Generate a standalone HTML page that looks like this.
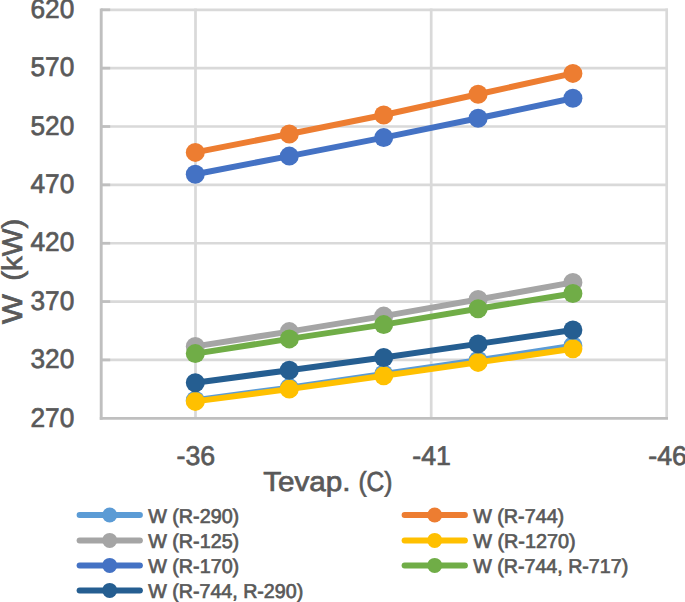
<!DOCTYPE html>
<html><head><meta charset="utf-8"><title>chart</title>
<style>
html,body{margin:0;padding:0;background:#fff;}
body{width:685px;height:602px;overflow:hidden;}
svg{display:block;}
text{font-family:"Liberation Sans",sans-serif;fill:#595959;stroke:#595959;stroke-width:0.7;text-rendering:geometricPrecision;}
</style></head><body>
<svg width="685" height="602" viewBox="0 0 685 602">
<rect width="685" height="602" fill="#fff"/>

<line x1="101" y1="9.80" x2="668" y2="9.80" stroke="#D9D9D9" stroke-width="2.7"/>
<line x1="101" y1="68.16" x2="668" y2="68.16" stroke="#D9D9D9" stroke-width="2.7"/>
<line x1="101" y1="126.51" x2="668" y2="126.51" stroke="#D9D9D9" stroke-width="2.7"/>
<line x1="101" y1="184.87" x2="668" y2="184.87" stroke="#D9D9D9" stroke-width="2.7"/>
<line x1="101" y1="243.23" x2="668" y2="243.23" stroke="#D9D9D9" stroke-width="2.7"/>
<line x1="101" y1="301.59" x2="668" y2="301.59" stroke="#D9D9D9" stroke-width="2.7"/>
<line x1="101" y1="359.94" x2="668" y2="359.94" stroke="#D9D9D9" stroke-width="2.7"/>
<line x1="195.5" y1="8.450000000000001" x2="195.5" y2="418.3" stroke="#D9D9D9" stroke-width="2.7"/>
<line x1="431.2" y1="8.450000000000001" x2="431.2" y2="418.3" stroke="#D9D9D9" stroke-width="2.7"/>
<line x1="666.7" y1="8.450000000000001" x2="666.7" y2="418.3" stroke="#D9D9D9" stroke-width="2.7"/>
<line x1="101" y1="9.80" x2="110.2" y2="9.80" stroke="#BFBFBF" stroke-width="2.7"/>
<line x1="101" y1="68.16" x2="110.2" y2="68.16" stroke="#BFBFBF" stroke-width="2.7"/>
<line x1="101" y1="126.51" x2="110.2" y2="126.51" stroke="#BFBFBF" stroke-width="2.7"/>
<line x1="101" y1="184.87" x2="110.2" y2="184.87" stroke="#BFBFBF" stroke-width="2.7"/>
<line x1="101" y1="243.23" x2="110.2" y2="243.23" stroke="#BFBFBF" stroke-width="2.7"/>
<line x1="101" y1="301.59" x2="110.2" y2="301.59" stroke="#BFBFBF" stroke-width="2.7"/>
<line x1="101" y1="359.94" x2="110.2" y2="359.94" stroke="#BFBFBF" stroke-width="2.7"/>
<line x1="101.2" y1="8.450000000000001" x2="101.2" y2="419.7" stroke="#BFBFBF" stroke-width="2.9"/>
<line x1="99.8" y1="418.3" x2="668" y2="418.3" stroke="#BFBFBF" stroke-width="2.8"/>
<polyline points="195.3,400.2 289.3,387.6 383.7,374.0 478.1,360.3 572.9,345.8" fill="none" stroke="#5B9BD5" stroke-width="6" stroke-linecap="round" stroke-linejoin="round"/>
<circle cx="195.3" cy="400.2" r="9.5" fill="#5B9BD5"/>
<circle cx="289.3" cy="387.6" r="9.5" fill="#5B9BD5"/>
<circle cx="383.7" cy="374.0" r="9.5" fill="#5B9BD5"/>
<circle cx="478.1" cy="360.3" r="9.5" fill="#5B9BD5"/>
<circle cx="572.9" cy="345.8" r="9.5" fill="#5B9BD5"/>
<polyline points="195.3,152.4 289.3,134.0 383.7,115.0 478.1,94.2 572.9,73.4" fill="none" stroke="#ED7D31" stroke-width="6" stroke-linecap="round" stroke-linejoin="round"/>
<circle cx="195.3" cy="152.4" r="9.5" fill="#ED7D31"/>
<circle cx="289.3" cy="134.0" r="9.5" fill="#ED7D31"/>
<circle cx="383.7" cy="115.0" r="9.5" fill="#ED7D31"/>
<circle cx="478.1" cy="94.2" r="9.5" fill="#ED7D31"/>
<circle cx="572.9" cy="73.4" r="9.5" fill="#ED7D31"/>
<polyline points="195.3,346.4 289.3,331.6 383.7,316.1 478.1,299.5 572.9,282.4" fill="none" stroke="#A5A5A5" stroke-width="6" stroke-linecap="round" stroke-linejoin="round"/>
<circle cx="195.3" cy="346.4" r="9.5" fill="#A5A5A5"/>
<circle cx="289.3" cy="331.6" r="9.5" fill="#A5A5A5"/>
<circle cx="383.7" cy="316.1" r="9.5" fill="#A5A5A5"/>
<circle cx="478.1" cy="299.5" r="9.5" fill="#A5A5A5"/>
<circle cx="572.9" cy="282.4" r="9.5" fill="#A5A5A5"/>
<polyline points="195.3,401.4 289.3,389.1 383.7,375.7 478.1,362.4 572.9,348.8" fill="none" stroke="#FFC000" stroke-width="6" stroke-linecap="round" stroke-linejoin="round"/>
<circle cx="195.3" cy="401.4" r="9.5" fill="#FFC000"/>
<circle cx="289.3" cy="389.1" r="9.5" fill="#FFC000"/>
<circle cx="383.7" cy="375.7" r="9.5" fill="#FFC000"/>
<circle cx="478.1" cy="362.4" r="9.5" fill="#FFC000"/>
<circle cx="572.9" cy="348.8" r="9.5" fill="#FFC000"/>
<polyline points="195.3,174.2 289.3,156.1 383.7,137.6 478.1,118.3 572.9,98.3" fill="none" stroke="#4472C4" stroke-width="6" stroke-linecap="round" stroke-linejoin="round"/>
<circle cx="195.3" cy="174.2" r="9.5" fill="#4472C4"/>
<circle cx="289.3" cy="156.1" r="9.5" fill="#4472C4"/>
<circle cx="383.7" cy="137.6" r="9.5" fill="#4472C4"/>
<circle cx="478.1" cy="118.3" r="9.5" fill="#4472C4"/>
<circle cx="572.9" cy="98.3" r="9.5" fill="#4472C4"/>
<polyline points="195.3,353.6 289.3,338.9 383.7,324.6 478.1,308.8 572.9,293.5" fill="none" stroke="#70AD47" stroke-width="6" stroke-linecap="round" stroke-linejoin="round"/>
<circle cx="195.3" cy="353.6" r="9.5" fill="#70AD47"/>
<circle cx="289.3" cy="338.9" r="9.5" fill="#70AD47"/>
<circle cx="383.7" cy="324.6" r="9.5" fill="#70AD47"/>
<circle cx="478.1" cy="308.8" r="9.5" fill="#70AD47"/>
<circle cx="572.9" cy="293.5" r="9.5" fill="#70AD47"/>
<polyline points="195.3,382.7 289.3,370.2 383.7,357.5 478.1,343.9 572.9,330.0" fill="none" stroke="#255E91" stroke-width="6" stroke-linecap="round" stroke-linejoin="round"/>
<circle cx="195.3" cy="382.7" r="9.5" fill="#255E91"/>
<circle cx="289.3" cy="370.2" r="9.5" fill="#255E91"/>
<circle cx="383.7" cy="357.5" r="9.5" fill="#255E91"/>
<circle cx="478.1" cy="343.9" r="9.5" fill="#255E91"/>
<circle cx="572.9" cy="330.0" r="9.5" fill="#255E91"/>
<text x="30.5" y="18.0" font-size="27" textLength="43.8" lengthAdjust="spacingAndGlyphs">620</text>
<text x="30.5" y="76.4" font-size="27" textLength="43.8" lengthAdjust="spacingAndGlyphs">570</text>
<text x="30.5" y="134.7" font-size="27" textLength="43.8" lengthAdjust="spacingAndGlyphs">520</text>
<text x="30.5" y="193.1" font-size="27" textLength="43.8" lengthAdjust="spacingAndGlyphs">470</text>
<text x="30.5" y="251.4" font-size="27" textLength="43.8" lengthAdjust="spacingAndGlyphs">420</text>
<text x="30.5" y="309.8" font-size="27" textLength="43.8" lengthAdjust="spacingAndGlyphs">370</text>
<text x="30.5" y="368.1" font-size="27" textLength="43.8" lengthAdjust="spacingAndGlyphs">320</text>
<text x="30.5" y="426.5" font-size="27" textLength="43.8" lengthAdjust="spacingAndGlyphs">270</text>
<text x="176.5" y="465.0" font-size="27" textLength="38.6" lengthAdjust="spacingAndGlyphs">-36</text>
<text x="412.3" y="465.0" font-size="27" textLength="38.6" lengthAdjust="spacingAndGlyphs">-41</text>
<text x="648.3" y="465.0" font-size="27" textLength="38.6" lengthAdjust="spacingAndGlyphs">-46</text>
<text x="263.2" y="490.6" font-size="27.5" stroke-width="0.5" textLength="87.4" lengthAdjust="spacingAndGlyphs">Tevap.</text>
<text x="358.4" y="490.6" font-size="27.5" stroke-width="0.5" textLength="34" lengthAdjust="spacingAndGlyphs">(C)</text>
<text transform="translate(22.4,323.9) rotate(-90)" font-size="28.5" stroke-width="0.5" textLength="29.8" lengthAdjust="spacingAndGlyphs">W</text>
<text transform="translate(22.4,280.8) rotate(-90)" font-size="28.5" stroke-width="0.5" textLength="62" lengthAdjust="spacingAndGlyphs">(kW)</text>
<line x1="79.6" y1="515" x2="139.89999999999998" y2="515" stroke="#5B9BD5" stroke-width="6" stroke-linecap="round"/>
<circle cx="109.69999999999999" cy="515" r="7.5" fill="#5B9BD5"/>
<text x="148.2" y="522.7" font-size="20" stroke-width="0.45" textLength="91.0" lengthAdjust="spacingAndGlyphs">W (R-290)</text>
<line x1="79.6" y1="540.4" x2="139.89999999999998" y2="540.4" stroke="#A5A5A5" stroke-width="6" stroke-linecap="round"/>
<circle cx="109.69999999999999" cy="540.4" r="7.5" fill="#A5A5A5"/>
<text x="148.2" y="548.1" font-size="20" stroke-width="0.45" textLength="91.0" lengthAdjust="spacingAndGlyphs">W (R-125)</text>
<line x1="79.6" y1="565.4" x2="139.89999999999998" y2="565.4" stroke="#4472C4" stroke-width="6" stroke-linecap="round"/>
<circle cx="109.69999999999999" cy="565.4" r="7.5" fill="#4472C4"/>
<text x="148.2" y="573.1" font-size="20" stroke-width="0.45" textLength="91.0" lengthAdjust="spacingAndGlyphs">W (R-170)</text>
<line x1="79.6" y1="590.4" x2="139.89999999999998" y2="590.4" stroke="#255E91" stroke-width="6" stroke-linecap="round"/>
<circle cx="109.69999999999999" cy="590.4" r="7.5" fill="#255E91"/>
<text x="148.2" y="598.1" font-size="20" stroke-width="0.45" textLength="155.0" lengthAdjust="spacingAndGlyphs">W (R-744, R-290)</text>
<line x1="404.6" y1="515" x2="464.90000000000003" y2="515" stroke="#ED7D31" stroke-width="6" stroke-linecap="round"/>
<circle cx="434.70000000000005" cy="515" r="7.5" fill="#ED7D31"/>
<text x="473.20000000000005" y="522.7" font-size="20" stroke-width="0.45" textLength="91.0" lengthAdjust="spacingAndGlyphs">W (R-744)</text>
<line x1="404.6" y1="540.4" x2="464.90000000000003" y2="540.4" stroke="#FFC000" stroke-width="6" stroke-linecap="round"/>
<circle cx="434.70000000000005" cy="540.4" r="7.5" fill="#FFC000"/>
<text x="473.20000000000005" y="548.1" font-size="20" stroke-width="0.45" textLength="102.5" lengthAdjust="spacingAndGlyphs">W (R-1270)</text>
<line x1="404.6" y1="565.4" x2="464.90000000000003" y2="565.4" stroke="#70AD47" stroke-width="6" stroke-linecap="round"/>
<circle cx="434.70000000000005" cy="565.4" r="7.5" fill="#70AD47"/>
<text x="473.20000000000005" y="573.1" font-size="20" stroke-width="0.45" textLength="155.0" lengthAdjust="spacingAndGlyphs">W (R-744, R-717)</text>
</svg></body></html>
